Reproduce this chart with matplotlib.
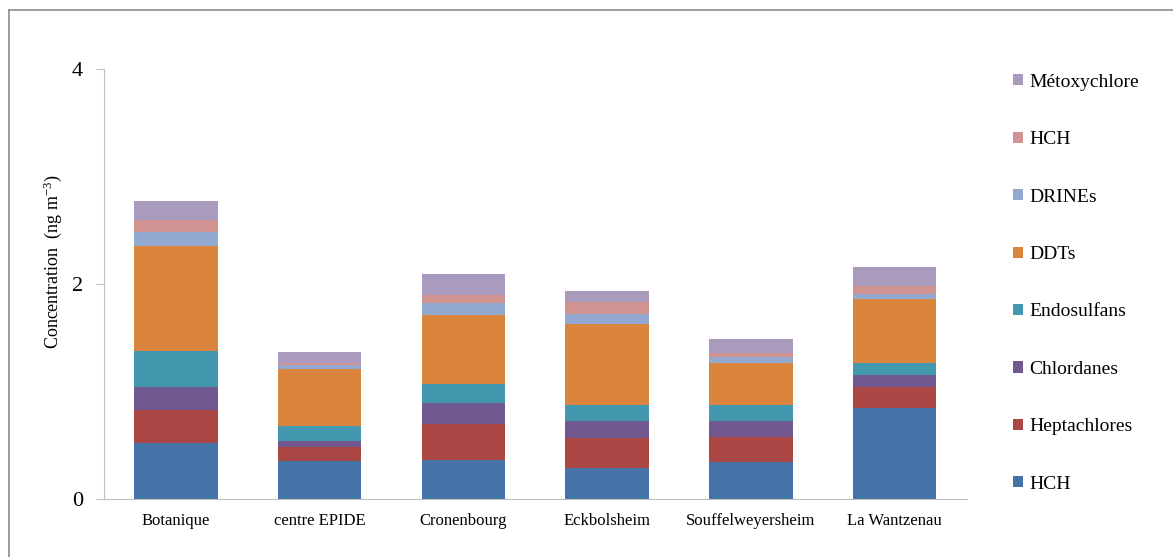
import matplotlib
matplotlib.use('Agg')
import matplotlib.pyplot as plt
from matplotlib.lines import Line2D
import numpy as np

plt.rcParams['font.family'] = ['Liberation Serif', 'DejaVu Serif']
plt.rcParams['mathtext.fontset'] = 'custom'
plt.rcParams['mathtext.rm'] = 'Liberation Serif'
plt.rcParams['mathtext.default'] = 'regular'

sites = ['Botanique', 'centre EPIDE', 'Cronenbourg', 'Eckbolsheim',
         'Souffelweyersheim', 'La Wantzenau']

# stacked from bottom to top
hch = [0.52, 0.353, 0.366, 0.288, 0.344, 0.844]
heptachlores = [0.31, 0.128, 0.329, 0.282, 0.230, 0.195]
chlordanes = [0.21, 0.061, 0.198, 0.153, 0.149, 0.114]
endosulfans = [0.335, 0.134, 0.177, 0.151, 0.151, 0.109]
ddts = [0.98, 0.531, 0.642, 0.757, 0.391, 0.596]
drines = [0.125, 0.037, 0.108, 0.093, 0.056, 0.046]
hch2 = [0.12, 0.021, 0.075, 0.111, 0.037, 0.077]
metoxychlore = [0.17, 0.10, 0.195, 0.103, 0.127, 0.180]

series = [
    ('HCH', hch, '#4572A7'),
    ('Heptachlores', heptachlores, '#AA4643'),
    ('Chlordanes', chlordanes, '#71588F'),
    ('Endosulfans', endosulfans, '#4198AF'),
    ('DDTs', ddts, '#DB843D'),
    ('DRINEs', drines, '#93A9CF'),
    ('HCH', hch2, '#D19392'),
    ('Métoxychlore', metoxychlore, '#A99BBD'),
]

fig = plt.figure(figsize=(11.73, 5.57), dpi=100)
ax = fig.add_axes([0.0887, 0.1041, 0.7353, 0.7719])

x = np.arange(len(sites))
bottom = np.zeros(len(sites))
handles = []
for name, vals, col in series:
    b = ax.bar(x, vals, 0.58, bottom=bottom, color=col, label=name)
    bottom += np.array(vals)
    handles.append(b)

ax.set_xlim(-0.5, len(sites) - 0.5)
ax.set_ylim(0, 4)
ax.set_yticks([0, 2, 4])
ax.set_xticks(x)
ax.set_xticklabels(sites, fontsize=12)
ax.tick_params(axis='x', length=0, pad=10)
ax.tick_params(axis='y', labelsize=16, length=6, color='#bfbfbf', pad=9)
for s in ['top', 'right']:
    ax.spines[s].set_visible(False)
for s in ['left', 'bottom']:
    ax.spines[s].set_color('#bfbfbf')
ax.set_ylabel('Concentration  (ng m$^{-3}$)', fontsize=13)
ax.yaxis.set_label_coords(-0.046, 0.551)

leg = ax.legend(handles[::-1], [h.get_label() for h in handles[::-1]],
                loc='upper left', bbox_to_anchor=(1.034, 1.03), frameon=False,
                fontsize=14, handlelength=0.5, handleheight=0.5,
                handletextpad=0.3, labelspacing=2.08)

# outer border of the chart area
fig.add_artist(Line2D([9 / 1173, 9 / 1173], [0, 1 - 10 / 557], color='#8c8c8c',
                      lw=1.2, transform=fig.transFigure))
fig.add_artist(Line2D([9 / 1173, 1], [1 - 10 / 557, 1 - 10 / 557], color='#8c8c8c',
                      lw=1.2, transform=fig.transFigure))

fig.savefig('out.png', dpi=100)
